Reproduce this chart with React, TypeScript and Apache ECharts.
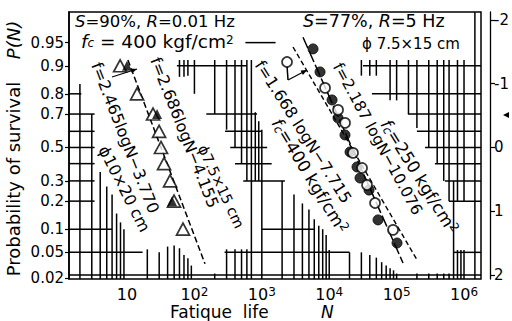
import React, { useEffect, useRef } from 'react';
import * as echarts from 'echarts';

// ---------- data ----------
const survivalLevels = [0.95, 0.9, 0.8, 0.7, 0.5, 0.3, 0.2, 0.1, 0.05, 0.02];
const survivalLabels = ['0.95', '0.9', '0.8', '0.7', '0.5', '0.3', '0.2', '0.1', '0.05', '0.02'];
const normalTicks = [-2, -1, 0, 1, 2];
const decadeTicks = [1, 2, 3, 4, 5, 6];

// S=90 %, R=0.01 Hz (triangles)
const triOpenN = [7.9, 14.1, 24.3, 29.9, 31.9, 35.4, 43.5, 49.8, 67.7];
const triOpenP = [0.9, 0.8, 0.7, 0.6, 0.5, 0.4, 0.3, 0.2, 0.1];
const triFilledN = [10, 27.9, 46.6];
const triFilledP = [0.9, 0.7, 0.2];

// S=77 %, R=5 Hz (circles)
const circFilledN = [5754, 7310, 11020, 13520, 17150, 20370, 25840, 28640, 38980, 52990, 101400];
const circFilledP = [0.939, 0.882, 0.772, 0.678, 0.578, 0.472, 0.38, 0.316, 0.252, 0.128, 0.067];
const circOpenN = [2366, 8670, 13520, 17150, 22540, 30690, 36390, 47860, 88500];
const circOpenP = [0.91, 0.825, 0.722, 0.65, 0.466, 0.374, 0.278, 0.192, 0.098];

// fitted lines [N1, P1, N2, P2]
const triFitLine = [10.3, 0.915, 143.6, 0.034];
const circOpenFit = [2904, 0.9425, 201000, 0.0388];
const circFilledFit = [4083, 0.958, 124500, 0.035];

// leader arrows [N1, P1, N2, P2]
const leaderLines = [
  [5.98, 0.8656, 14.06, 0.8909],
  [2366, 0.8995, 2449, 0.855],
  [2449, 0.855, 4690, 0.888],
];

// probability paper grid remnants
const PB = 0.0196;
const PT = 0.983;
const gridH = [
  [0.8, 1.38, 2.1], [0.7, 1.38, 3.3], [0.6, 1.38, 3.3], [0.5, 1.38, 3.3], [0.4, 1.38, 3.3],
  [0.3, 1.38, 3.3], [0.2, 1.38, 3.3], [0.1, 1.38, 6], [0.05, 1.38, 17],
  [0.95, 570, 1600], [0.9, 55, 600], [0.7, 150, 850], [0.6, 285, 1000], [0.5, 340, 1200],
  [0.4, 400, 1400], [0.3, 530, 2200], [0.1, 1000, 6000], [0.05, 280, 20000],
  [0.9, 31700, 1.79e6], [0.8, 43000, 1.79e6], [0.7, 147000, 1.79e6], [0.6, 200000, 1.79e6],
  [0.5, 264000, 1.79e6], [0.4, 370000, 1.79e6], [0.3, 520000, 1.79e6], [0.2, 600000, 1.79e6],
  [0.05, 690000, 1.79e6], [0.0228, 1.38, 1.79e6],
];
const gridV = [
  [2, 0.84, PB], [3, 0.7, PB], [4, 0.35, PB], [5, 0.27, PB], [6, 0.23, PB], [7, 0.15, PB], [8, 0.12, PB], [9, 0.1, PB],
  [20, 0.055, PB], [30, 0.05, PB], [40, 0.06, PB], [50, 0.062, PB], [60, 0.057, PB], [70, 0.046, PB], [80, 0.041, PB], [90, 0.032, PB],
  [60, 0.915, 0.866], [70, 0.915, 0.866], [80, 0.915, 0.87],
  [100, 0.915, 0.8], [200, 0.915, 0.7], [300, 0.915, 0.61], [400, 0.915, 0.5], [500, 0.915, 0.4], [600, 0.915, 0.3],
  [700, 0.915, PB], [800, 0.71, 0.3], [900, 0.66, 0.3], [1000, 0.61, PB], [2000, 0.3, PB], [3000, 0.23, PB],
  [4000, 0.19, PB], [5000, 0.165, PB], [6000, 0.13, PB], [7000, 0.11, PB], [8000, 0.1, PB], [9000, 0.085, PB],
  [200, 0.024, PB], [300, 0.055, PB], [400, 0.055, PB], [500, 0.055, PB], [600, 0.055, PB],
  [1e4, 0.054, PB], [2e4, 0.05, PB], [3e4, 0.05, PB], [4e4, 0.046, PB], [5e4, 0.042, PB], [6e4, 0.036, PB],
  [7e4, 0.032, PB], [8e4, 0.029, PB], [9e4, 0.027, PB],
  [1e5, 0.024, PB], [2e5, 0.024, PB], [3e5, 0.024, PB], [4e5, 0.024, PB], [5e5, 0.024, PB], [6e5, 0.024, PB],
  [7e5, 0.3, PB], [8e5, 0.054, PB], [9e5, 0.054, PB], [1e6, 0.054, PB],
  [3e4, 0.915, 0.87], [4e4, 0.915, 0.87], [5e4, 0.915, 0.87], [8e4, 0.915, 0.77], [1e5, 0.915, 0.77],
  [1.5e5, 0.915, 0.7], [2e5, 0.915, 0.62], [3e5, 0.915, 0.5], [4e5, 0.915, 0.4], [5e5, 0.915, 0.3],
  [6e5, 0.915, 0.2], [8e5, 0.915, 0.2], [1e6, 0.915, 0.2],
  [1.45e6, PT, PB],
];

// ---------- helpers ----------
function invNorm(p: number): number {
  const a = [-3.969683028665376e1, 2.209460984245205e2, -2.759285104469687e2, 1.38357751867269e2, -3.066479806614716e1, 2.506628277459239];
  const b = [-5.447609879822406e1, 1.615858368580409e2, -1.556989798598866e2, 6.680131188771972e1, -1.328068155288572e1];
  const c = [-7.784894002430293e-3, -3.223964580411365e-1, -2.400758277161838, -2.549732539343734, 4.374664141464968, 2.938163982698783];
  const d = [7.784695709041462e-3, 3.224671290700398e-1, 2.445134137142996, 3.754408661907416];
  const pl = 0.02425;
  if (p < pl) {
    const q = Math.sqrt(-2 * Math.log(p));
    return (((((c[0] * q + c[1]) * q + c[2]) * q + c[3]) * q + c[4]) * q + c[5]) / ((((d[0] * q + d[1]) * q + d[2]) * q + d[3]) * q + 1);
  }
  if (p <= 1 - pl) {
    const q = p - 0.5;
    const r = q * q;
    return ((((((a[0] * r + a[1]) * r + a[2]) * r + a[3]) * r + a[4]) * r + a[5]) * q) / (((((b[0] * r + b[1]) * r + b[2]) * r + b[3]) * r + b[4]) * r + 1);
  }
  const q = Math.sqrt(-2 * Math.log(1 - p));
  return -(((((c[0] * q + c[1]) * q + c[2]) * q + c[3]) * q + c[4]) * q + c[5]) / ((((d[0] * q + d[1]) * q + d[2]) * q + d[3]) * q + 1);
}
const zOf = (P: number) => invNorm(1 - P);
const lx = (N: number) => Math.log10(N);
const pt = (N: number, P: number) => [lx(N), zOf(P)];

const FONT = 'DejaVu Sans';

// segment kinds: 0 grid, 1 triangle fit, 2 open-circle fit, 3 filled-circle fit, 4 leader arrow
const KIND_STYLE: any[] = [
  { lineWidth: 1.5 },
  { lineWidth: 1.5, lineDash: [6, 3] },
  { lineWidth: 1.4, lineDash: [5, 3] },
  { lineWidth: 1.5, lineDash: [12, 3] },
  { lineWidth: 1.2 },
];

export default function App() {
  const ref = useRef<HTMLDivElement>(null);
  useEffect(() => {
    if (!ref.current) return;
    const chart = echarts.init(ref.current, undefined, { renderer: 'svg' });

    const segs: number[][] = [];
    const add = (a: number[], b: number[], kind: number) => segs.push([a[0], a[1], b[0], b[1], kind]);
    gridH.forEach(([P, n1, n2]) => add(pt(n1, P), pt(n2, P), 0));
    gridV.forEach(([N, p1, p2]) => add(pt(N, p1), pt(N, p2), 0));
    add(pt(triFitLine[0], triFitLine[1]), pt(triFitLine[2], triFitLine[3]), 1);
    add(pt(circOpenFit[0], circOpenFit[1]), pt(circOpenFit[2], circOpenFit[3]), 2);
    add(pt(circFilledFit[0], circFilledFit[1]), pt(circFilledFit[2], circFilledFit[3]), 3);
    leaderLines.forEach(([n1, p1, n2, p2], i) => add(pt(n1, p1), pt(n2, p2), i === 1 ? 0 : 4));

    const renderSeg = (_params: any, api: any) => {
      const a = api.coord([api.value(0), api.value(1)]);
      const b = api.coord([api.value(2), api.value(3)]);
      const kind = api.value(4);
      const st = KIND_STYLE[kind];
      const line = {
        type: 'line',
        shape: { x1: a[0], y1: a[1], x2: b[0], y2: b[1] },
        style: { stroke: '#000', fill: null, lineWidth: st.lineWidth, lineDash: st.lineDash || null },
      };
      if (kind !== 4) return line;
      const ang = Math.atan2(b[1] - a[1], b[0] - a[0]);
      const L = 6;
      const W = 2.5;
      const bx = b[0] - L * Math.cos(ang);
      const by = b[1] - L * Math.sin(ang);
      return {
        type: 'group',
        children: [
          line,
          {
            type: 'polygon',
            shape: {
              points: [
                [b[0], b[1]],
                [bx + W * Math.sin(ang), by - W * Math.cos(ang)],
                [bx - W * Math.sin(ang), by + W * Math.cos(ang)],
              ],
            },
            style: { fill: '#000' },
          },
        ],
      };
    };

    const zLevels = survivalLevels.map(zOf);
    const mkRich = (size: number, small: number, lh: number) => ({
      i: { fontFamily: FONT, fontSize: size, fontStyle: 'italic', fill: '#000', lineHeight: lh },
      n: { fontFamily: FONT, fontSize: size, fill: '#000', lineHeight: lh },
      s: { fontFamily: FONT, fontSize: small, fontStyle: 'italic', fill: '#000', verticalAlign: 'bottom', lineHeight: lh },
      p: { fontFamily: FONT, fontSize: small, fill: '#000', verticalAlign: 'top', lineHeight: lh },
    });
    const rot = (text: string, x: number, y: number, deg: number, size: number, rich?: any) => ({
      type: 'text',
      x,
      y,
      z: 10,
      rotation: (-deg * Math.PI) / 180,
      style: { text, fontFamily: FONT, fontSize: size, fill: '#000', align: 'left', verticalAlign: 'middle', rich },
    });
    const head = (text: string, x: number, y: number, size: number) => ({
      type: 'text', x, y, z: 10,
      style: { text, rich: mkRich(size, 12, 15), align: 'left', verticalAlign: 'middle' },
    });

    chart.setOption({
      animation: false,
      backgroundColor: '#fff',
      grid: { left: 69, right: 31, top: 12, bottom: 42, show: true, borderColor: '#000', borderWidth: 1.5, backgroundColor: 'transparent' },
      xAxis: {
        type: 'value',
        min: 0.139,
        max: 6.252,
        splitLine: { show: false },
        axisLine: { show: false, onZero: false },
        axisTick: { show: false },
        axisLabel: {
          customValues: decadeTicks,
          margin: 7,
          formatter: (v: number) => (v === 1 ? '{b|10}' : `{b|10}{s|${v}}`),
          rich: {
            b: { fontFamily: FONT, fontSize: 16, color: '#000', lineHeight: 16 },
            s: { fontFamily: FONT, fontSize: 12, color: '#000', verticalAlign: 'top', lineHeight: 16 },
          },
        },
      },
      yAxis: [
        {
          type: 'value',
          inverse: true,
          min: -2.125,
          max: 2.063,
          splitLine: { show: false },
          axisLine: { show: true, onZero: false, lineStyle: { color: '#000', width: 1.5 } },
          axisTick: { show: true, customValues: zLevels, length: 4, lineStyle: { color: '#000', width: 1.2 } },
          axisLabel: {
            customValues: zLevels,
            margin: 5,
            fontFamily: FONT,
            fontSize: 15,
            color: '#000',
            formatter: (v: number) => {
              const i = zLevels.findIndex((z) => Math.abs(z - v) < 1e-6);
              return i >= 0 ? survivalLabels[i] : '';
            },
          },
        },
        {
          type: 'value',
          inverse: true,
          position: 'right',
          offset: 9,
          min: -2.125,
          max: 2.063,
          splitLine: { show: false },
          axisLine: { show: true, onZero: false, lineStyle: { color: '#000', width: 1.3 } },
          axisTick: { show: true, customValues: normalTicks, length: 5, lineStyle: { color: '#000', width: 1.2 } },
          axisLabel: {
            customValues: normalTicks,
            margin: 4,
            fontFamily: FONT,
            fontSize: 15,
            color: '#000',
            formatter: (v: number) => (v < 0 ? '-' + Math.abs(v) : String(v)),
          },
        },
      ],
      series: [
        {
          type: 'custom',
          silent: true,
          renderItem: renderSeg,
          data: segs,
          encode: { x: [0, 2], y: [1, 3] },
          clip: false,
          z: 1,
        },
        {
          type: 'scatter',
          data: triOpenN.map((n, i) => pt(n, triOpenP[i])),
          symbol: 'triangle',
          symbolSize: [13, 12],
          itemStyle: { color: '#fff', borderColor: '#000', borderWidth: 1.7 },
          z: 3,
        },
        {
          type: 'scatter',
          data: triFilledN.map((n, i) => pt(n, triFilledP[i])),
          symbol: 'triangle',
          symbolSize: [10, 10],
          itemStyle: { color: '#000' },
          z: 4,
        },
        {
          type: 'scatter',
          data: circFilledN.map((n, i) => pt(n, circFilledP[i])),
          symbol: 'circle',
          symbolSize: 10,
          itemStyle: { color: '#000', borderColor: '#000', borderWidth: 1 },
          z: 3,
        },
        {
          type: 'scatter',
          data: circOpenN.map((n, i) => pt(n, circOpenP[i])),
          symbol: 'circle',
          symbolSize: 10,
          itemStyle: { color: '#fff', borderColor: '#000', borderWidth: 1.7 },
          z: 4,
        },
      ],
      graphic: [
        head('{i|S}{n|=90%, }{i|R}{n|=0.01 Hz}', 75, 21, 16.5),
        head('{i|f}{s|c}{n| = 400 kgf/cm}{p|2}', 81, 41, 18.5),
        head('{i|S}{n|=77%, }{i|R}{n|=5 Hz}', 303, 21, 17.5),
        head('{n|ϕ 7.5×15 cm}', 362, 44, 15),
        rot('f=2.465logN−3.770', 96, 63, 68.7, 16),
        rot('ϕ10×20 cm', 103, 147, 63, 16),
        rot('f=2.686logN−4.155', 155, 58, 68.5, 16),
        rot('ϕ7.5×15 cm', 202, 146, 65, 14.5),
        rot('f=1.668 logN−7.715', 259, 62, 57.6, 16),
        rot('{i|f}{s|c}{n|=400 kgf/cm}{p|2}', 276, 120, 58.7, 17, mkRich(17, 12, 18)),
        rot('f=2.187 logN−10.076', 337, 64, 61.6, 15.5),
        rot('{i|f}{s|c}{n|=250 kgf/cm}{p|2}', 385, 121, 58.2, 17, mkRich(17, 12, 18)),
        {
          type: 'text', x: 13, y: 179, rotation: Math.PI / 2, z: 10,
          style: { text: 'Probability of survival', fontFamily: FONT, fontSize: 18, fill: '#000', align: 'center', verticalAlign: 'middle' },
        },
        {
          type: 'text', x: 13, y: 40, rotation: Math.PI / 2, z: 10,
          style: { text: 'P(N)', fontFamily: FONT, fontSize: 18, fontStyle: 'italic', fill: '#000', align: 'center', verticalAlign: 'middle' },
        },
        {
          type: 'text', x: 170, y: 312, z: 10,
          style: { text: 'Fatique  life', fontFamily: FONT, fontSize: 17, lineHeight: 17, fill: '#000', align: 'left', verticalAlign: 'middle' },
        },
        {
          type: 'text', x: 321, y: 312, z: 10,
          style: { text: 'N', fontFamily: FONT, fontSize: 17, lineHeight: 17, fontStyle: 'italic', fill: '#000', align: 'left', verticalAlign: 'middle' },
        },
        { type: 'polygon', shape: { points: [[503, 115], [509, 112], [509, 118]] }, style: { fill: '#000' }, z: 10 },
      ],
    });
    return () => chart.dispose();
  }, []);
  return <div ref={ref} style={{ position: 'fixed', left: 0, top: 0, width: 512, height: 321, background: '#fff' }} />;
}
